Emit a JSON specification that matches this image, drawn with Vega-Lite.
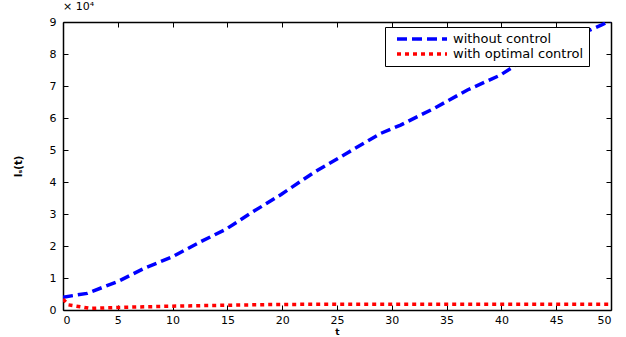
{
  "$schema": "https://vega.github.io/schema/vega-lite/v6.json",
  "width": 548,
  "height": 288,
  "autosize": {"type": "none"},
  "padding": {"left": 63, "top": 22, "right": 15, "bottom": 27},
  "background": "white",
  "title": {"text": "× 10⁴", "anchor": "start", "frame": "group", "fontSize": 11, "fontWeight": "normal", "font": "DejaVu Sans", "offset": 4, "dx": 0},
  "config": {
    "view": {"stroke": null},
    "font": "DejaVu Sans",
    "axis": {"grid": false, "domainColor": "black", "tickColor": "black", "labelColor": "black", "labelFont": "DejaVu Sans", "labelFontSize": 11, "titleFont": "DejaVu Sans", "titleFontWeight": "bold", "titleFontSize": 9, "tickSize": -5, "domainWidth": 1.5}
  },
  "data": {"values": [
    {"t": 0, "v": 4000, "s": "without control"},
    {"t": 2.2, "v": 5200, "s": "without control"},
    {"t": 5, "v": 8900, "s": "without control"},
    {"t": 7.4, "v": 13000, "s": "without control"},
    {"t": 9.9, "v": 16500, "s": "without control"},
    {"t": 12.6, "v": 21400, "s": "without control"},
    {"t": 14.9, "v": 25300, "s": "without control"},
    {"t": 17, "v": 30000, "s": "without control"},
    {"t": 19.9, "v": 36100, "s": "without control"},
    {"t": 22.9, "v": 43000, "s": "without control"},
    {"t": 25.9, "v": 49000, "s": "without control"},
    {"t": 29, "v": 55200, "s": "without control"},
    {"t": 30.8, "v": 57800, "s": "without control"},
    {"t": 33.85, "v": 63000, "s": "without control"},
    {"t": 36.9, "v": 68750, "s": "without control"},
    {"t": 39.9, "v": 73400, "s": "without control"},
    {"t": 41.8, "v": 77600, "s": "without control"},
    {"t": 45, "v": 83000, "s": "without control"},
    {"t": 49.1, "v": 89000, "s": "without control"},
    {"t": 50, "v": 90500, "s": "without control"},
    {"t": 0, "v": 3400, "s": "with optimal control"},
    {"t": 0.5, "v": 1600, "s": "with optimal control"},
    {"t": 2.5, "v": 500, "s": "with optimal control"},
    {"t": 5, "v": 800, "s": "with optimal control"},
    {"t": 10, "v": 1200, "s": "with optimal control"},
    {"t": 15, "v": 1500, "s": "with optimal control"},
    {"t": 20, "v": 1750, "s": "with optimal control"},
    {"t": 30, "v": 1800, "s": "with optimal control"},
    {"t": 40, "v": 1800, "s": "with optimal control"},
    {"t": 50, "v": 1800, "s": "with optimal control"}
  ]},
  "layer": [
    {
      "mark": {"type": "line", "strokeWidth": 3.5, "clip": true},
      "encoding": {
        "x": {"field": "t", "type": "quantitative", "scale": {"domain": [0, 50], "nice": false}, "axis": {"values": [0,5,10,15,20,25,30,35,40,45,50], "title": "t", "titlePadding": 2, "labelPadding": 9}},
        "y": {"field": "v", "type": "quantitative", "scale": {"domain": [0, 90000], "nice": false}, "axis": {"values": [0,10000,20000,30000,40000,50000,60000,70000,80000,90000], "labelExpr": "datum.value/10000", "title": "Iₛ(t)", "titleFontSize": 10, "titlePadding": 26, "labelPadding": 12}},
        "color": {"field": "s", "type": "nominal", "scale": {"domain": ["without control", "with optimal control"], "range": ["#0000ff", "#ff0000"]}, "legend": {"title": null, "orient": "none", "legendX": 322, "legendY": 5, "symbolType": "M-5,0H5", "symbolSize": 100, "symbolStrokeWidth": 3.5, "labelFontSize": 13, "labelFont": "DejaVu Sans", "labelColor": "black", "strokeColor": "black", "fillColor": "white", "padding": 5, "rowPadding": 1, "symbolOffset": 25, "labelOffset": 24}},
        "strokeDash": {"field": "s", "type": "nominal", "scale": {"domain": ["without control", "with optimal control"], "range": [[10, 5], [4, 4]]}, "legend": null}
      }
    },
    {
      "mark": {"type": "rule", "opacity": 0},
      "encoding": {
        "x": {"field": "t", "type": "quantitative", "scale": {"domain": [0, 50], "nice": false}, "axis": {"orient": "top", "values": [0,5,10,15,20,25,30,35,40,45,50], "labels": false, "title": null}},
        "y": {"field": "v", "type": "quantitative", "scale": {"domain": [0, 90000], "nice": false}, "axis": {"orient": "right", "values": [0,10000,20000,30000,40000,50000,60000,70000,80000,90000], "labels": false, "title": null}}
      }
    }
  ],
  "resolve": {"axis": {"x": "independent", "y": "independent"}}
}
